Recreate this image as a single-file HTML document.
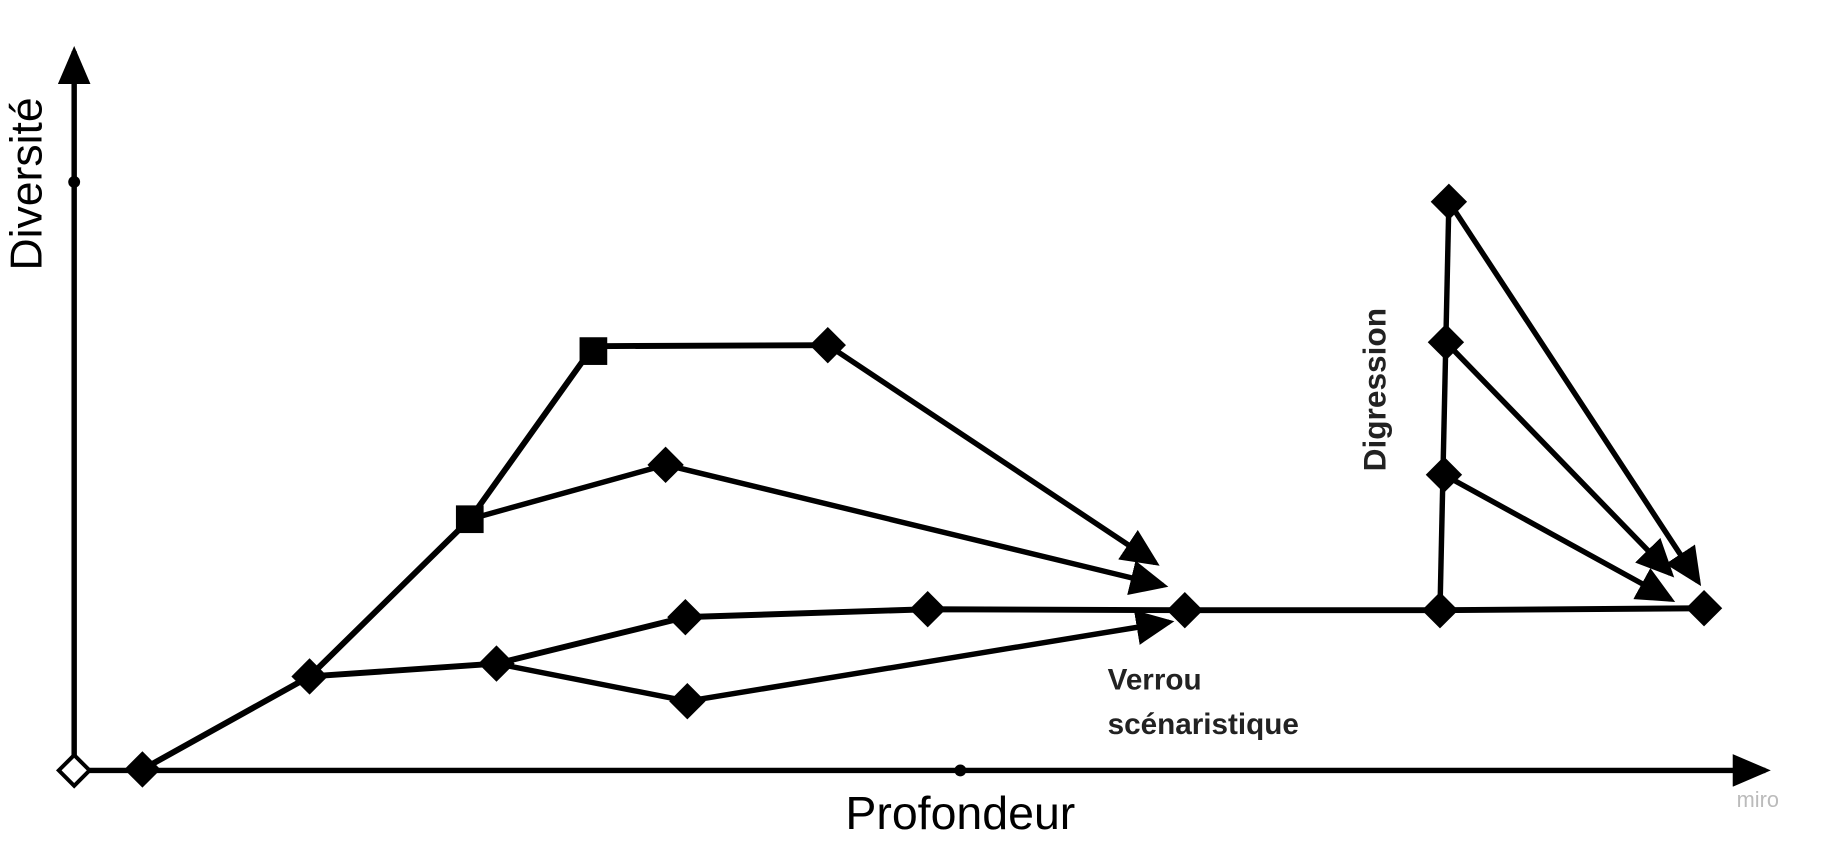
<!DOCTYPE html>
<html><head><meta charset="utf-8"><style>
html,body{margin:0;padding:0;background:#fff;width:1835px;height:851px;overflow:hidden}
text{font-family:"Liberation Sans","DejaVu Sans",sans-serif}
</style></head><body>
<svg width="1835" height="851" viewBox="0 0 1835 851" xmlns="http://www.w3.org/2000/svg">
<defs>
<marker id="ah" markerWidth="7" markerHeight="6.5" refX="6" refY="3.25" orient="auto" markerUnits="strokeWidth">
<path d="M0,0 L7,3.25 L0,6.5 z" fill="#000"/></marker>
<marker id="ax" markerWidth="7" markerHeight="6" refX="6" refY="3" orient="auto" markerUnits="strokeWidth">
<path d="M0,0 L7,3 L0,6 z" fill="#000"/></marker>
<g id="d"><rect x="-13" y="-13" width="26" height="26" transform="rotate(45)" fill="#000"/></g>
<g id="s"><rect x="-14" y="-14" width="28" height="28" fill="#000"/></g>
</defs>
<g transform="scale(0.989)">
<g stroke="#000" stroke-width="5.5" fill="none">
<line x1="75" y1="779" x2="75" y2="52" marker-end="url(#ax)"/>
<line x1="75" y1="779" x2="1785" y2="779" marker-end="url(#ax)"/>
<polyline points="144,778 313,684 475,525 600,350 837,349" stroke-width="6"/>
<polyline points="475,525 673,470"/>
<polyline points="313,684 502,671 693,624 938,616 1198,617 1456,617 1723,615" stroke-width="6"/>
<polyline points="502,671 695,709"/>
<line x1="1456" y1="617" x2="1465" y2="204"/>
<line x1="837" y1="349" x2="1168" y2="569" marker-end="url(#ah)"/>
<line x1="673" y1="470" x2="1176" y2="592" marker-end="url(#ah)"/>
<line x1="695" y1="709" x2="1182" y2="629" marker-end="url(#ah)"/>
<line x1="1465" y1="204" x2="1717" y2="588" marker-end="url(#ah)"/>
<line x1="1462" y1="346" x2="1689" y2="580" marker-end="url(#ah)"/>
<line x1="1460" y1="480" x2="1689" y2="606" marker-end="url(#ah)"/>
</g>
<circle cx="75" cy="184" r="6" fill="#000"/>
<circle cx="971" cy="779" r="6" fill="#000"/>
<rect x="-11" y="-11" width="22" height="22" transform="translate(75,779) rotate(45)" fill="#fff" stroke="#000" stroke-width="4"/>
<use href="#d" x="144" y="778"/>
<use href="#d" x="313" y="684"/>
<use href="#s" x="475" y="525"/>
<use href="#s" x="600" y="355"/>
<use href="#d" x="837" y="349"/>
<use href="#d" x="673" y="470"/>
<use href="#d" x="502" y="671"/>
<use href="#d" x="693" y="624"/>
<use href="#d" x="938" y="616"/>
<use href="#d" x="1198" y="617"/>
<use href="#d" x="695" y="709"/>
<use href="#d" x="1456" y="617"/>
<use href="#d" x="1723" y="615"/>
<use href="#d" x="1465" y="204"/>
<use href="#d" x="1462" y="346"/>
<use href="#d" x="1460" y="480"/>
<text x="0" y="0" transform="translate(42,186) rotate(-90)" font-size="45" text-anchor="middle">Diversité</text>
<text x="971" y="838" font-size="47" text-anchor="middle">Profondeur</text>
<text x="1120" y="697" font-size="30" font-weight="bold" fill="#222">Verrou</text>
<text x="1120" y="742" font-size="30" font-weight="bold" fill="#222">scénaristique</text>
<text x="0" y="0" transform="translate(1401,394) rotate(-90)" font-size="32" font-weight="bold" text-anchor="middle" fill="#222">Digression</text>
<text x="1756" y="816" font-size="22" fill="#bbb">miro</text>
</g>
</svg>
</body></html>
